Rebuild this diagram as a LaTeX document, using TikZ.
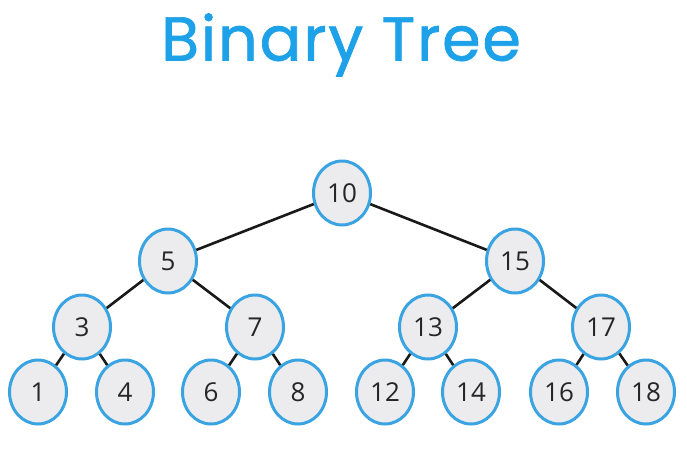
\documentclass[tikz,border=0pt]{standalone}
\usepackage{fontspec}
\setmainfont{Open Sans}
\newfontfamily\titlefont[FakeBold=1.2,LetterSpace=3]{Poppins}
\usetikzlibrary{shapes.geometric}
\definecolor{titleblue}{RGB}{29,161,232}
\definecolor{nodeblue}{RGB}{58,163,226}
\definecolor{nodefill}{RGB}{236,236,238}
\definecolor{edgecol}{RGB}{25,25,25}
\begin{document}
\begin{tikzpicture}[x=1pt,y=-1pt,
  tnode/.style={ellipse, draw=nodeblue, line width=3pt, fill=nodefill,
    minimum width=57pt, minimum height=64pt, inner sep=0pt,
    font=\fontsize{26}{30}\selectfont, text=black!85},
  edge/.style={draw=edgecol, line width=2.6pt}]
\useasboundingbox (0,0) rectangle (687,455);
\fill[white] (0,0) rectangle (687,455);
\node[font=\titlefont\fontsize{62}{70}\selectfont, text=titleblue] (title) at (341,45) {Binary Tree};
\node[tnode] (n10) at (342,193) {10};
\node[tnode] (n5) at (168,261) {5};
\node[tnode] (n15) at (515,261) {15};
\node[tnode] (n3) at (82,327) {3};
\node[tnode] (n7) at (255,327) {7};
\node[tnode] (n13) at (428,327) {13};
\node[tnode] (n17) at (601,327) {17};
\node[tnode] (n1) at (38,392) {1};
\node[tnode] (n4) at (125,392) {4};
\node[tnode] (n6) at (211,392) {6};
\node[tnode] (n8) at (298,392) {8};
\node[tnode] (n12) at (385,392) {12};
\node[tnode] (n14) at (471,392) {14};
\node[tnode] (n16) at (559,392) {16};
\node[tnode] (n18) at (646,392) {18};
\path[edge] (n10) -- (n5);
\path[edge] (n10) -- (n15);
\path[edge] (n5) -- (n3);
\path[edge] (n5) -- (n7);
\path[edge] (n15) -- (n13);
\path[edge] (n15) -- (n17);
\path[edge] (n3) -- (n1);
\path[edge] (n3) -- (n4);
\path[edge] (n7) -- (n6);
\path[edge] (n7) -- (n8);
\path[edge] (n13) -- (n12);
\path[edge] (n13) -- (n14);
\path[edge] (n17) -- (n16);
\path[edge] (n17) -- (n18);
\end{tikzpicture}
\end{document}
